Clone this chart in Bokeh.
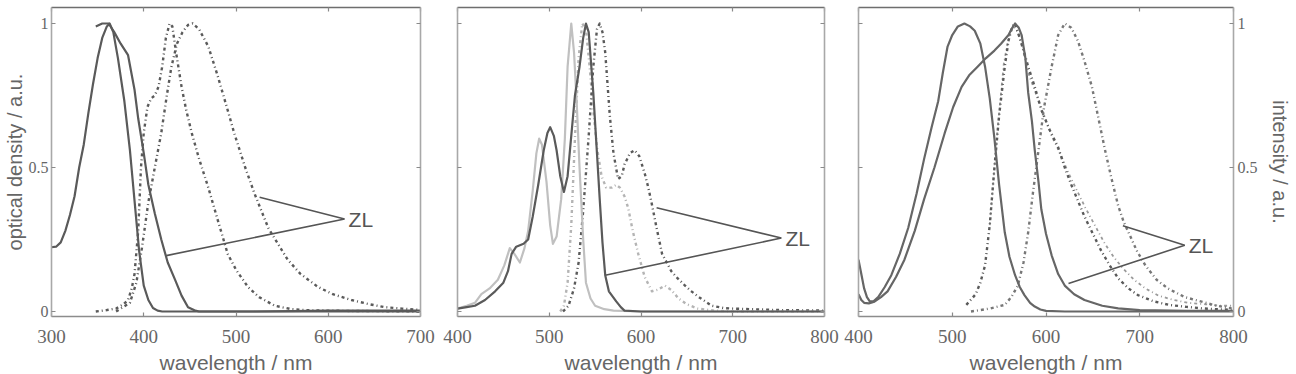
from bokeh.plotting import figure
from bokeh.layouts import row
from bokeh.models import LinearAxis, Range1d, FixedTicker, Label
from bokeh.embed import file_html
from bokeh.resources import INLINE

# ---------------- data: panel 1 ----------------
p1_absA_x = [300, 305, 310, 315, 320, 325, 330, 335, 340, 345, 350, 355, 360, 363, 367, 372, 379, 385, 390, 395, 400, 405, 410, 415, 420, 450, 500, 600, 700]
p1_absA_y = [0.223, 0.225, 0.24, 0.28, 0.335, 0.40, 0.50, 0.58, 0.69, 0.79, 0.88, 0.95, 0.99, 1.0, 0.97, 0.88, 0.73, 0.56, 0.385, 0.21, 0.09, 0.04, 0.012, 0.003, 0.0, 0.0, 0.0, 0.0, 0.0]
p1_absB_x = [348, 355, 362, 368, 375, 383, 390, 394, 400, 405, 412, 419, 426, 434, 441, 448, 455, 460, 480, 520, 600, 700]
p1_absB_y = [0.99, 1.0, 1.0, 0.97, 0.93, 0.89, 0.77, 0.67, 0.55, 0.44, 0.34, 0.25, 0.17, 0.11, 0.055, 0.015, 0.004, 0.0, 0.0, 0.0, 0.003, 0.003]
p1_emA_x = [348, 360, 370, 378, 383, 387, 390, 394, 397, 400, 404, 408, 412, 416, 420, 424, 428, 431, 435, 441, 446, 452, 460, 470, 480, 491, 500, 513, 525, 542, 560, 580, 620, 700]
p1_emA_y = [0.0, 0.005, 0.01, 0.025, 0.04, 0.08, 0.13, 0.28, 0.5, 0.62, 0.71, 0.74, 0.75, 0.78, 0.85, 0.95, 1.0, 0.99, 0.9, 0.78, 0.7, 0.62, 0.53, 0.43, 0.32, 0.2, 0.145, 0.085, 0.05, 0.02, 0.008, 0.004, 0.002, 0.0]
p1_emB_x = [370, 385, 392, 398, 405, 412, 419, 425, 430, 436, 442, 448, 453, 460, 470, 480, 490, 498, 510, 520, 535, 556, 570, 589, 605, 625, 645, 661, 680, 700]
p1_emB_y = [0.0, 0.03, 0.1, 0.22, 0.38, 0.5, 0.62, 0.75, 0.85, 0.93, 0.97, 0.995, 1.0, 0.98, 0.92, 0.82, 0.71, 0.62, 0.5, 0.41, 0.29, 0.18, 0.13, 0.085, 0.06, 0.04, 0.025, 0.015, 0.01, 0.005]

# ---------------- data: panel 2 ----------------
p2_absA_x = [400, 410, 419, 426, 435, 444, 451, 457, 462, 468, 473, 477, 482, 486, 489, 492, 497, 501, 504, 508, 513, 517, 520, 524, 527, 530, 533, 537, 540, 545, 550, 560, 570, 600, 800]
p2_absA_y = [0.01, 0.02, 0.03, 0.06, 0.08, 0.11, 0.16, 0.22, 0.2, 0.17, 0.22, 0.28, 0.42, 0.55, 0.6, 0.58, 0.45, 0.3, 0.235, 0.26, 0.39, 0.6, 0.85, 1.0, 0.9, 0.72, 0.5, 0.25, 0.1, 0.045, 0.02, 0.008, 0.003, 0.0, 0.0]
p2_absB_x = [400, 410, 419, 430, 441, 450, 455, 459, 464, 468, 472, 477, 482, 488, 494, 498, 501, 505, 508, 512, 516, 520, 524, 528, 533, 537, 540, 543, 548, 552, 555, 558, 561, 565, 573, 578, 582, 600, 800]
p2_absB_y = [0.01, 0.015, 0.02, 0.04, 0.07, 0.1, 0.14, 0.2, 0.225, 0.23, 0.235, 0.25, 0.33, 0.44, 0.56, 0.62, 0.64, 0.61, 0.56, 0.47, 0.415, 0.47, 0.61, 0.75, 0.85, 0.95, 1.0, 0.97, 0.76, 0.55, 0.39, 0.24, 0.126, 0.07, 0.035, 0.015, 0.003, 0.0, 0.0]
p2_emA_x = [512, 516, 520, 524, 528, 532, 536, 540, 544, 548, 552, 557, 562, 568, 573, 577, 582, 586, 591, 597, 604, 612, 618, 626, 633, 641, 650, 662, 680, 700, 800]
p2_emA_y = [0.0, 0.02, 0.1, 0.3, 0.6, 0.88, 1.0, 0.98, 0.85, 0.7, 0.57, 0.47, 0.43, 0.43, 0.44, 0.43, 0.4, 0.36, 0.28, 0.2, 0.12, 0.07, 0.075, 0.09, 0.075, 0.045, 0.025, 0.01, 0.003, 0.0, 0.0]
p2_emB_x = [515, 521, 527, 532, 537, 543, 548, 552, 555, 558, 561, 566, 570, 575, 579, 582, 588, 593, 598, 604, 608, 612, 617, 623, 633, 640, 648, 655, 663, 670, 677, 690, 700, 750, 800]
p2_emB_y = [0.0, 0.02, 0.08, 0.17, 0.35, 0.61, 0.85, 0.98, 1.0, 0.97, 0.9, 0.68, 0.55, 0.46, 0.47, 0.51, 0.55, 0.56, 0.54, 0.48, 0.43, 0.37, 0.29, 0.2, 0.14, 0.115, 0.09, 0.07, 0.05, 0.035, 0.02, 0.012, 0.01, 0.005, 0.003]

# ---------------- data: panel 3 ----------------
p3_absA_x = [400, 403, 406, 409, 412, 416, 421, 428, 435, 444, 453, 462, 470, 478, 485, 490, 495, 500, 506, 513, 519, 524, 530, 535, 540, 545, 550, 556, 561, 567, 572, 577, 583, 588, 594, 600, 620, 700, 800]
p3_absA_y = [0.18, 0.13, 0.08, 0.05, 0.035, 0.035, 0.05, 0.085, 0.126, 0.2, 0.29, 0.41, 0.53, 0.64, 0.73, 0.83, 0.92, 0.96, 0.99, 1.0, 0.99, 0.975, 0.93, 0.85, 0.74, 0.6, 0.44, 0.275, 0.19, 0.126, 0.085, 0.057, 0.03, 0.017, 0.007, 0.002, 0.0, 0.0, 0.0]
p3_absB_x = [400, 403, 406, 411, 417, 424, 431, 440, 449, 460, 470, 481, 492, 501, 510, 518, 527, 536, 545, 552, 560, 564, 567, 571, 574, 578, 581, 585, 588, 592, 595, 600, 606, 613, 620, 630, 641, 660, 677, 700, 750, 800]
p3_absB_y = [0.06, 0.04, 0.03, 0.028, 0.034, 0.05, 0.07, 0.12, 0.18, 0.28, 0.39, 0.5, 0.62, 0.71, 0.78, 0.82, 0.85, 0.88, 0.906, 0.93, 0.96, 0.985, 1.0, 0.985, 0.96, 0.88, 0.76, 0.66, 0.56, 0.45, 0.355, 0.27, 0.195, 0.13, 0.09, 0.06, 0.04, 0.02, 0.011, 0.005, 0.002, 0.002]
p3_emA_x = [515, 525, 530, 535, 540, 545, 550, 556, 560, 564, 567, 571, 575, 581, 588, 595, 604, 613, 620, 627, 634, 641, 650, 659, 668, 677, 688, 698, 715, 731, 750, 766, 782, 798]
p3_emA_y = [0.023, 0.06, 0.1, 0.16, 0.3, 0.5, 0.68, 0.85, 0.94, 0.99, 1.0, 0.96, 0.92, 0.85, 0.78, 0.7, 0.63, 0.57, 0.5, 0.44, 0.385, 0.33, 0.27, 0.21, 0.16, 0.115, 0.08, 0.057, 0.035, 0.023, 0.016, 0.011, 0.008, 0.006]
p3_emC_x = [540, 548, 555, 560, 565, 570, 576, 582, 590, 598, 606, 615, 624, 633, 642, 652, 662, 672, 682, 694, 706, 720, 736, 752, 770, 785, 798]
p3_emC_y = [0.3, 0.62, 0.86, 0.95, 0.99, 0.97, 0.9, 0.82, 0.75, 0.68, 0.61, 0.55, 0.48, 0.42, 0.36, 0.3, 0.24, 0.19, 0.15, 0.11, 0.08, 0.055, 0.04, 0.03, 0.025, 0.02, 0.02]
p3_emB_x = [520, 540, 556, 563, 570, 576, 581, 586, 592, 598, 606, 613, 620, 627, 634, 641, 649, 656, 663, 670, 677, 683, 688, 697, 706, 718, 730, 748, 766, 782, 798]
p3_emB_y = [0.0, 0.01, 0.023, 0.05, 0.09, 0.17, 0.275, 0.41, 0.56, 0.71, 0.85, 0.96, 1.0, 0.985, 0.94, 0.87, 0.78, 0.67, 0.56, 0.46, 0.367, 0.31, 0.275, 0.21, 0.16, 0.11, 0.08, 0.05, 0.034, 0.02, 0.011]

# tick labels
p1_xticks = [300, 400, 500, 600, 700]
p23_xticks = [400, 500, 600, 700, 800]
y_ticks = [0, 0.5, 1]
y_tick_labels = {0: "0", 0.5: "0.5", 1: "1"}

# annotation pointers (tip1, apex, tip2) and label
p1_zl_x = [525.6, 617.7, 424.5]
p1_zl_y = [0.397, 0.321, 0.194]
p2_zl_x = [617, 753, 561]
p2_zl_y = [0.36, 0.255, 0.126]
p3_zl_x = [682, 748, 624]
p3_zl_y = [0.298, 0.23, 0.097]

Y0, Y1 = -0.0174, 1.0556
DARK = "#5a5a5a"
LIGHT = "#b4b4b4"
TICKFONT = "Liberation Serif"
LABELFONT = "Liberation Sans"


def base_axis(ax, line_color):
    ax.major_tick_in = 4
    ax.major_tick_out = 0
    ax.minor_tick_line_color = None
    ax.major_tick_line_color = "#8a8a8a"
    ax.major_tick_line_width = 1.2
    ax.axis_line_color = line_color
    ax.axis_line_width = 1.6


def hide_labels(ax):
    ax.major_label_text_font_size = "1px"
    ax.major_label_text_color = None
    ax.major_label_standoff = 0


def label_axis(ax, tick_size, lab_size, standoff, lab_standoff):
    ax.major_label_text_font = TICKFONT
    ax.major_label_text_font_size = tick_size
    ax.major_label_text_color = "#666666"
    ax.major_label_standoff = standoff
    ax.axis_label_text_font = LABELFONT
    ax.axis_label_text_font_size = lab_size
    ax.axis_label_text_font_style = "normal"
    ax.axis_label_text_color = "#666666"
    ax.axis_label_standoff = lab_standoff


def make_fig(xr, xticks, fw, bl, br, left_lab=None, right_lab=None):
    p = figure(frame_width=fw, frame_height=309,
               x_range=Range1d(*xr), y_range=Range1d(Y0, Y1),
               output_backend="svg", toolbar_location=None,
               x_axis_location=None, y_axis_location=None,
               min_border_left=bl, min_border_right=br,
               min_border_top=7, min_border_bottom=58)
    p.title = None
    p.outline_line_color = None
    p.xgrid.visible = False
    p.ygrid.visible = False
    p.background_fill_color = "white"
    p.border_fill_color = "white"

    b = LinearAxis(ticker=FixedTicker(ticks=xticks), axis_label="wavelength / nm")
    base_axis(b, "#8c8c8c")
    label_axis(b, "19px", "21px", 13, 5)
    p.add_layout(b, "below")
    t = LinearAxis(ticker=FixedTicker(ticks=xticks))
    base_axis(t, "#6e6e6e")
    hide_labels(t)
    p.add_layout(t, "above")

    l = LinearAxis(ticker=FixedTicker(ticks=y_ticks))
    base_axis(l, "#a8a8a8")
    if left_lab:
        l.axis_label = left_lab
        l.major_label_overrides = y_tick_labels
        label_axis(l, "16px", "20px", 3, 0)
    else:
        hide_labels(l)
    p.add_layout(l, "left")

    r = LinearAxis(ticker=FixedTicker(ticks=y_ticks))
    base_axis(r, "#a8a8a8")
    if right_lab:
        r.axis_label = right_lab
        r.major_label_overrides = y_tick_labels
        label_axis(r, "16px", "20px", 4, 8)
    else:
        hide_labels(r)
    p.add_layout(r, "right")
    return p


def solid(p, x, y, c=DARK):
    p.line(x, y, line_color=c, line_width=2.2, line_join="round")


def dashdot(p, x, y, c=DARK, w=2.4):
    p.line(x, y, line_color=c, line_width=w, line_dash="3 3 1 3", line_join="round")


def zl(p, xs, ys):
    p.line(xs, ys, line_color="#555555", line_width=1.6)
    p.add_layout(Label(x=xs[1], y=ys[1], text="ZL", x_offset=4,
                       text_font=LABELFONT, text_font_size="21px",
                       text_baseline="middle", text_align="left",
                       text_color="#555555"))


# panel 1
p1 = make_fig((300, 700), p1_xticks, 369, 50, 17, left_lab="optical density / a.u.")
dashdot(p1, p1_emA_x, p1_emA_y)
dashdot(p1, p1_emB_x, p1_emB_y)
solid(p1, p1_absA_x, p1_absA_y)
solid(p1, p1_absB_x, p1_absB_y)
zl(p1, p1_zl_x, p1_zl_y)

# panel 2
p2 = make_fig((400, 800), p23_xticks, 367, 20, 17)
dashdot(p2, p2_emA_x, p2_emA_y, c=LIGHT)
dashdot(p2, p2_emB_x, p2_emB_y)
solid(p2, p2_absA_x, p2_absA_y, c="#c0c0c0")
solid(p2, p2_absB_x, p2_absB_y)
zl(p2, p2_zl_x, p2_zl_y)

# panel 3
p3 = make_fig((400, 800), p23_xticks, 375, 17, 64, right_lab="intensity / a.u.")
dashdot(p3, p3_emC_x, p3_emC_y, c="#9a9a9a", w=1.8)
dashdot(p3, p3_emA_x, p3_emA_y)
dashdot(p3, p3_emB_x, p3_emB_y, c="#777777")
solid(p3, p3_absA_x, p3_absA_y, c="#666666")
solid(p3, p3_absB_x, p3_absB_y, c="#666666")
zl(p3, p3_zl_x, p3_zl_y)

layout = row(p1, p2, p3)
open("out.html", "w").write(file_html(layout, INLINE))
